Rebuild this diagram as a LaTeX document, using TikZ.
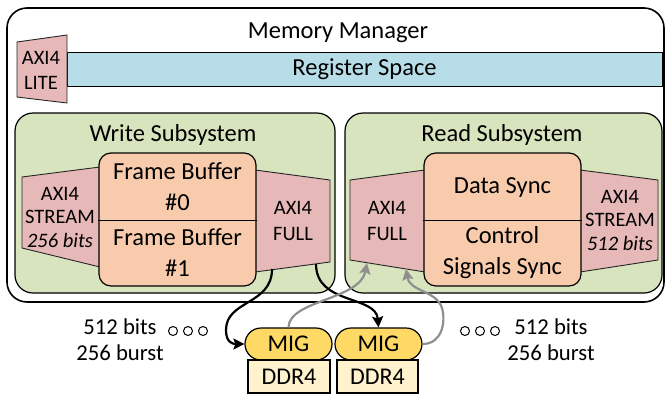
\documentclass[tikz,border=0pt]{standalone}
\usepackage{fontspec}
\setmainfont{Carlito}
\usetikzlibrary{positioning, calc, arrows.meta}
\definecolor{AxiPink}{HTML}{E6B9B8}
\definecolor{SubGreen}{HTML}{D7E4BD}
\definecolor{BufOrange}{HTML}{F8CBAD}
\definecolor{RegBlue}{HTML}{B7DEE8}
\definecolor{MigGold}{HTML}{FFD966}
\definecolor{DdrCream}{HTML}{FFF2CC}
\definecolor{LinkGray}{HTML}{8F8F8F}

\tikzset{
  box/.style={draw, line width=1.2pt, inner sep=0pt},
  axi/.style={fill=AxiPink, draw=black!85, line width=0.9pt},
  lbl/.style={font=\fontsize{20.5}{23.5}\selectfont, align=center, inner sep=0pt},
  txt/.style={font=\fontsize{24.5}{31}\selectfont, align=center, inner sep=0pt},
  wlink/.style={line width=2.2pt, -{Stealth[length=11pt,width=11pt,inset=2pt]}},
  rlink/.style={wlink, draw=LinkGray, color=LinkGray},
}

\begin{document}
\begin{tikzpicture}[x=1pt, y=-1pt]
          \useasboundingbox (0,0) rectangle (665,397);

          % Memory manager frame
          \node[box, line width=1.6pt, rounded corners=20pt, minimum width=657pt, minimum height=294pt] (mm) at (335.5,155) {};
          \node[txt] (mmtitle) at (338,33) {Memory Manager};

          % Register space
          \node[box, line width=1pt, fill=RegBlue, minimum width=595pt, minimum height=34pt] (regs) at (364.5,69) {};
          \node[txt] (regstxt) at (364.5,69) {Register Space};
          \draw[axi] (17,42) -- (67,35) -- (67,103) -- (17,97) -- cycle;
          \node[lbl, font=\fontsize{20.5}{25}\selectfont] (lite) at (41,70) {AXI4\\LITE};

          % Subsystems
          \node[box, rounded corners=18pt, fill=SubGreen, minimum width=320pt, minimum height=180pt] (wsub) at (175,203) {};
          \node[txt] (wsubtitle) at (173,135) {Write Subsystem};
          \node[box, rounded corners=18pt, fill=SubGreen, minimum width=317pt, minimum height=180pt] (rsub) at (503.5,203) {};
          \node[txt] (rsubtitle) at (502,135) {Read Subsystem};

          % Write side
          \draw[axi] (22,177) -- (100,167) -- (100,267) -- (22,248) -- cycle;
          \node[lbl] (wstream) at (60,217) {AXI4\\STREAM\\\textit{256 bits}};
          \draw[axi] (255,170) -- (330,180) -- (330,262) -- (255,272) -- cycle;
          \node[lbl, font=\fontsize{20.5}{26}\selectfont] (wfull) at (293,221) {AXI4\\FULL};
          \node[box, rounded corners=12pt, fill=BufOrange, minimum width=157pt, minimum height=133pt] (fbuf) at (177.5,219.5) {};
          \draw[line width=1pt] (fbuf.west |- 0,220) -- (fbuf.east |- 0,220);
          \node[txt] (fb0) at (177.5,187) {Frame Buffer\\\#0};
          \node[txt] (fb1) at (177.5,253) {Frame Buffer\\\#1};

          % Read side
          \draw[axi] (350,180) -- (425,170) -- (425,272) -- (350,260) -- cycle;
          \node[lbl, font=\fontsize{20.5}{26}\selectfont] (rfull) at (387,221) {AXI4\\FULL};
          \draw[axi] (580,170) -- (658,180) -- (658,260) -- (580,272) -- cycle;
          \node[lbl] (rstream) at (620,220) {AXI4\\STREAM\\\textit{512 bits}};
          \node[box, rounded corners=12pt, fill=BufOrange, minimum width=157pt, minimum height=133pt] (dsync) at (502.5,219.5) {};
          \draw[line width=1pt] (dsync.west |- 0,220) -- (dsync.east |- 0,220);
          \node[txt] (dsynctxt) at (502.5,188) {Data Sync};
          \node[txt] (csync) at (502.5,253) {Control\\Signals Sync};

          % Memory controllers
          \node[box, fill=MigGold, rounded corners=16pt, minimum width=87pt, minimum height=32pt, font=\fontsize{24}{28}\selectfont] (mig1) at (288.5,344) {MIG};
          \node[box, fill=MigGold, rounded corners=16pt, minimum width=87pt, minimum height=32pt, font=\fontsize{24}{28}\selectfont] (mig2) at (378.5,344) {MIG};
          \node[box, fill=DdrCream, minimum width=82pt, minimum height=33pt, font=\fontsize{24}{28}\selectfont] (ddr1) at (289,376.5) {DDR4};
          \node[box, fill=DdrCream, minimum width=81pt, minimum height=33pt, font=\fontsize{24}{28}\selectfont] (ddr2) at (377.5,376.5) {DDR4};

          % Port info
          \node[txt, font=\fontsize{22.7}{26}\selectfont] (infoL) at (120,340) {512 bits\\256 burst};
          \node[txt, font=\fontsize{22.7}{26}\selectfont] (infoR) at (551,340) {512 bits\\256 burst};
          \foreach \cx in {173,188,203,465,480,495}
            \draw[line width=1pt] (\cx,331) circle (4.5);

          % Links
          \coordinate (wout0) at (272,269);
          \coordinate (wout1) at (316,264);
          \coordinate (rin0) at (367,263);
          \coordinate (rin1) at (406,269);
          \draw[wlink] (wout0) .. controls (272,305) and (226,300) .. (226,330)
                       .. controls (226,342) and (232,344) .. (mig1.west);
          \draw[wlink] (wout1) .. controls (316,305) and (376,295) .. (mig2.north);
          \draw[rlink] (mig1.north) .. controls (289,300) and (360,300) .. (rin0);
          \draw[rlink] (mig2.east) .. controls (442,344) and (446,322) .. (442,308)
                       .. controls (436,290) and (410,292) .. (rin1);
        \end{tikzpicture}
\end{document}
